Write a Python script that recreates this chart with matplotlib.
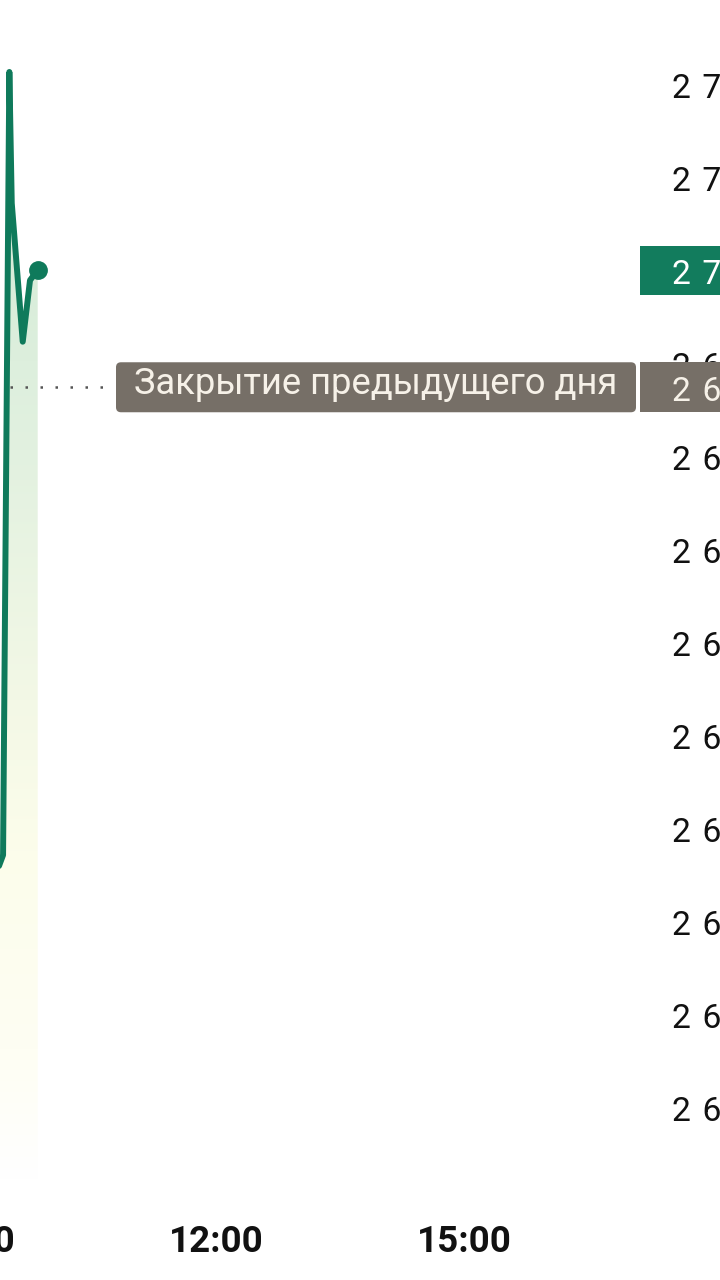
import matplotlib
matplotlib.use('Agg')
import matplotlib.pyplot as plt
import numpy as np
import matplotlib.transforms as mtransforms
from matplotlib.patches import Rectangle, FancyBboxPatch
from matplotlib.colors import to_rgb

# ---------------- data ----------------
time_h = [9.29, 9.424, 9.500, 9.529, 9.662, 9.75, 9.843]
price = [2634.0, 2637.2, 2721.4, 2707.3, 2692.4, 2699.0, 2700.1]
prev_close = 2687.5
y_ticks = [2720, 2710, 2700, 2690, 2680, 2670, 2660, 2650, 2640, 2630, 2620, 2610]
y_tick_labels = ['2\u2004720', '2\u2004710', '2\u2004700', '2\u2004690', '2\u2004680', '2\u2004670',
                 '2\u2004660', '2\u2004650', '2\u2004640', '2\u2004630', '2\u2004620', '2\u2004610']
x_ticks = [9, 12, 15]
x_tick_labels = ['09:00', '12:00', '15:00']
prev_close_label = 'Закрытие предыдущего дня'
prev_close_text = '2\u2004687'
last_price_text = '2\u2004700'

# ---------------- style ----------------
LINE = '#0f7a5b'
BADGE_GREEN = '#127c5d'
GREY_BOX = '#766f67'
BOX_TEXT = '#f6f1e8'
FONT = ['Roboto', 'DejaVu Sans']
TICK_FS = 24.3

fig = plt.figure(figsize=(7.2, 12.8), dpi=100)
fig.patch.set_facecolor('white')
ax = fig.add_axes([0, 100 / 1280, 640 / 720, 1180 / 1280])
ax.set_xlim(9.387, 17.129)
ax.set_ylim(2602.26, 2729.14)
for s in ax.spines.values():
    s.set_visible(False)
ax.set_facecolor('white')

# y ticks on the right
ax.yaxis.tick_right()
ax.set_yticks(y_ticks)
ax.set_yticklabels(y_tick_labels, fontsize=TICK_FS, family=FONT, color='#111111')
ax.tick_params(axis='y', length=0, pad=23)
ax.set_xticks([])

# x tick labels (drawn as text so the cut-off one shows)
xtrans = ax.get_xaxis_transform()
for xv, lab in zip(x_ticks, x_tick_labels):
    ax.text(xv, -0.061, lab, transform=xtrans, ha='center', va='baseline',
            fontsize=26.5, fontweight='bold', family=FONT, color='#111111',
            clip_on=False)

# gradient fill under the line
y0, y1 = ax.get_ylim()
x0, x1 = ax.get_xlim()
poly_x = list(time_h) + [time_h[-1], time_h[0]]
poly_y = list(price) + [y0, y0]
fill_poly = ax.fill(poly_x, poly_y, facecolor='none', edgecolor='none')[0]

stops_px = [0, 270, 450, 700, 850, 1050, 1180]
stops_col = ['#d8edda', '#d8edda', '#e2f1e0', '#f3f8e6', '#fcfdeb', '#fefef3', '#ffffff']
rows = np.linspace(0, 1180, 400)
cols = np.array([to_rgb(c) for c in stops_col])
img = np.zeros((len(rows), 1, 3))
for k in range(3):
    img[:, 0, k] = np.interp(rows, stops_px, cols[:, k])
im = ax.imshow(img, extent=[x0, x1, y0, y1], origin='upper', aspect='auto',
               zorder=1, interpolation='bilinear')
im.set_clip_path(fill_poly)

# dotted previous close line
ax.plot([0, 0.164], [prev_close, prev_close], transform=ax.get_yaxis_transform(),
        color='#555555', lw=1.8, linestyle=(2.0, (1, 5.0)), zorder=2)

# price line and end dot
ax.plot(time_h, price, color=LINE, lw=4.3, solid_joinstyle='round',
        solid_capstyle='round', zorder=3)
ax.plot([time_h[-1]], [price[-1]], 'o', color=LINE, markersize=12.5, zorder=4)

# badges (pixel offsets from anchors)
base = ax.get_yaxis_transform()
t_prev = mtransforms.ScaledTranslation(1.0, prev_close, base)
t_last = mtransforms.ScaledTranslation(1.0, price[-1], base)

ax.add_patch(FancyBboxPatch((-524, -25), 520, 50, boxstyle='round,pad=0,rounding_size=5',
                            transform=t_prev, facecolor=GREY_BOX, edgecolor='none',
                            clip_on=False, zorder=5))
ax.add_patch(Rectangle((0, -25), 80, 50, transform=t_prev, facecolor=GREY_BOX,
                       edgecolor='none', clip_on=False, zorder=5))
ax.text(-264, -6.5, prev_close_label, transform=t_prev, ha='center', va='baseline',
        fontsize=26.2, family=FONT, color=BOX_TEXT, clip_on=False, zorder=6)
ax.text(32, -1, prev_close_text, transform=t_prev, ha='left', va='center_baseline',
        fontsize=TICK_FS, family=FONT, color=BOX_TEXT, clip_on=False, zorder=6)

ax.add_patch(Rectangle((0, -25), 80, 49, transform=t_last, facecolor=BADGE_GREEN,
                       edgecolor='none', clip_on=False, zorder=5))
ax.text(32, -1, last_price_text, transform=t_last, ha='left', va='center_baseline',
        fontsize=TICK_FS, family=FONT, color='#ffffff', clip_on=False, zorder=6)

fig.savefig('out.png', dpi=100)
